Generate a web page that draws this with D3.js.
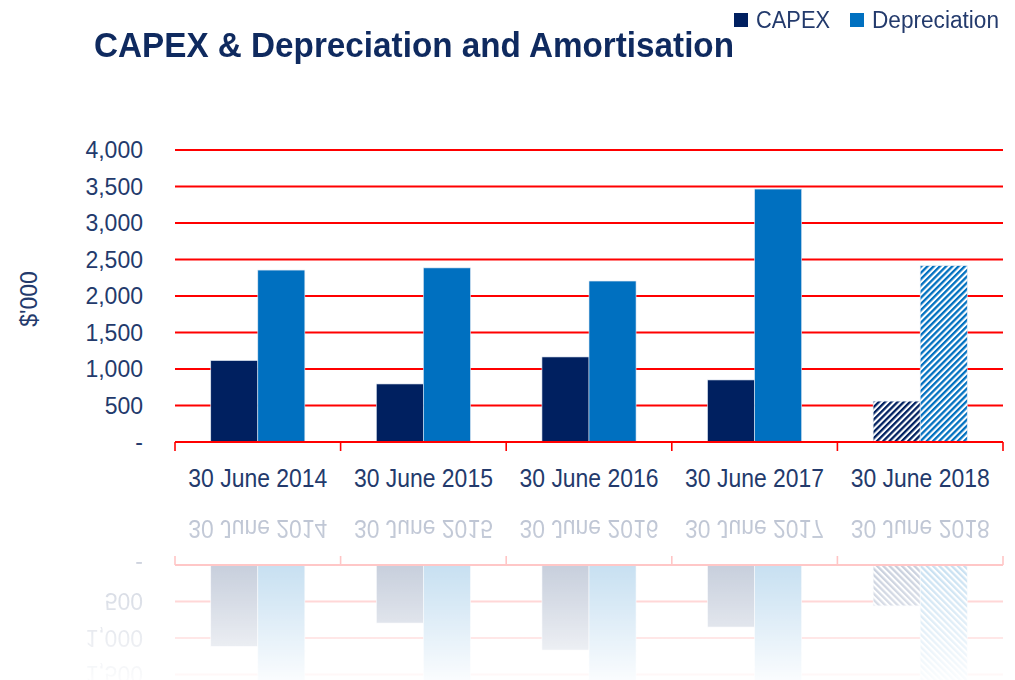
<!DOCTYPE html>
<html>
<head>
<meta charset="utf-8">
<script src="https://cdn.jsdelivr.net/npm/d3@7"></script>
<style>
  body { margin: 0; background: #fff; }
  text { font-family: "Liberation Sans", Arial, sans-serif; }
</style>
</head>
<body>
<script>
// data
var categories = ["30 June 2014", "30 June 2015", "30 June 2016", "30 June 2017", "30 June 2018"];
var series = ["CAPEX", "Depreciation"];
var capex = [1115, 795, 1165, 850, 560];
var depreciation = [2355, 2385, 2205, 3465, 2415];
var yTicks = [0, 500, 1000, 1500, 2000, 2500, 3000, 3500, 4000];
var forecast = ["30 June 2018"];   // hatched bars

var width = 1015, height = 680;
var margin = {top: 150, left: 175, right: 12};
var plotBottom = 442;

var colors = {CAPEX: "#002060", Depreciation: "#0070c0"};
var textColor = "#233a6c";

var svg = d3.select("body").append("svg")
    .attr("width", width)
    .attr("height", height);

var defs = svg.append("defs");

// hatch patterns for the forecast year
series.forEach(function(s) {
    var p = defs.append("pattern")
        .attr("id", "hatch-" + s)
        .attr("patternUnits", "userSpaceOnUse")
        .attr("width", 4.4)
        .attr("height", 4.4)
        .attr("patternTransform", "rotate(45)");
    p.append("rect").attr("width", 4.4).attr("height", 4.4).attr("fill", "#fff");
    p.append("rect").attr("width", 2.3).attr("height", 4.4).attr("fill", colors[s]);
});

// fading mask for the reflection
var grad = defs.append("linearGradient")
    .attr("id", "fade")
    .attr("gradientUnits", "userSpaceOnUse")
    .attr("x1", 0).attr("y1", 504).attr("x2", 0).attr("y2", 680);
grad.append("stop").attr("offset", 0).attr("stop-color", "#fff").attr("stop-opacity", 0.32);
grad.append("stop").attr("offset", 0.55).attr("stop-color", "#fff").attr("stop-opacity", 0.16);
grad.append("stop").attr("offset", 1).attr("stop-color", "#fff").attr("stop-opacity", 0.02);

defs.append("mask").attr("id", "reflMask")
    .attr("maskUnits", "userSpaceOnUse")
    .attr("x", 0).attr("y", 0).attr("width", width).attr("height", height)
  .append("rect")
    .attr("x", 0).attr("y", 504).attr("width", width).attr("height", 176)
    .attr("fill", "url(#fade)");

defs.append("filter").attr("id", "soft")
  .append("feGaussianBlur").attr("stdDeviation", 0.7);

var chart = svg.append("g").attr("id", "chart");

// scales
var x0 = d3.scaleBand()
    .domain(categories)
    .range([margin.left, width - margin.right])
    .padding(0);

var x1 = d3.scaleBand()
    .domain(series)
    .range([0, x0.bandwidth()])
    .paddingInner(0)
    .paddingOuter(0.76);

var y = d3.scaleLinear()
    .domain([0, 4000])
    .range([plotBottom, margin.top]);

// gridlines
chart.append("g")
    .selectAll("line")
    .data(yTicks.filter(function(d) { return d > 0; }))
    .enter().append("line")
    .attr("x1", margin.left)
    .attr("x2", width - margin.right)
    .attr("y1", function(d) { return y(d); })
    .attr("y2", function(d) { return y(d); })
    .attr("stroke", "#ff0000")
    .attr("stroke-width", 2);

// y axis labels
var yAxis = chart.append("g")
    .attr("transform", "translate(" + (margin.left - 32) + ",0)")
    .call(d3.axisLeft(y)
        .tickValues(yTicks)
        .tickSize(0)
        .tickPadding(0)
        .tickFormat(function(d) { return d === 0 ? "-" : d3.format(",")(d); }));
yAxis.select(".domain").remove();
yAxis.selectAll("text")
    .attr("fill", textColor)
    .style("font-size", "23px")
    .attr("dy", "0.34em");

// bars
var rows = categories.map(function(c, i) {
    return {cat: c, values: [
        {key: "CAPEX", value: capex[i]},
        {key: "Depreciation", value: depreciation[i]}
    ]};
});

chart.append("g")
    .selectAll("g")
    .data(rows)
    .enter().append("g")
    .attr("transform", function(d) { return "translate(" + x0(d.cat) + ",0)"; })
    .selectAll("rect")
    .data(function(d) {
        return d.values.map(function(v) { return {cat: d.cat, key: v.key, value: v.value}; });
    })
    .enter().append("rect")
    .attr("x", function(d) { return x1(d.key); })
    .attr("width", x1.bandwidth())
    .attr("y", function(d) { return y(d.value); })
    .attr("height", function(d) { return y(0) - y(d.value); })
    .attr("fill", function(d) {
        return forecast.indexOf(d.cat) >= 0 ? "url(#hatch-" + d.key + ")" : colors[d.key];
    })
    .attr("stroke", "#dfe8f2")
    .attr("stroke-width", 0.6);

// x axis: red line with boundary ticks
var xAxis = chart.append("g");
xAxis.append("line")
    .attr("x1", margin.left).attr("x2", width - margin.right)
    .attr("y1", plotBottom).attr("y2", plotBottom)
    .attr("stroke", "#ff0000").attr("stroke-width", 2);
var bounds = categories.map(function(c) { return x0(c); }).concat([x0.range()[1]]);
xAxis.selectAll(".tick")
    .data(bounds)
    .enter().append("line")
    .attr("x1", function(d) { return d; })
    .attr("x2", function(d) { return d; })
    .attr("y1", plotBottom)
    .attr("y2", plotBottom + 9)
    .attr("stroke", "#ff0000").attr("stroke-width", 1.6);

xAxis.selectAll(".cat")
    .data(categories)
    .enter().append("text")
    .attr("x", function(d) { return x0(d) + x0.bandwidth() / 2; })
    .attr("y", 487)
    .attr("text-anchor", "middle")
    .attr("fill", textColor)
    .style("font-size", "25px")
    .attr("textLength", 139)
    .attr("lengthAdjust", "spacingAndGlyphs")
    .text(function(d) { return d; });

// y axis title
chart.append("text")
    .attr("transform", "translate(37,299) rotate(-90)")
    .attr("text-anchor", "middle")
    .attr("fill", textColor)
    .style("font-size", "23px")
    .text("$'000");

// reflection of the lower part of the chart
svg.append("g")
    .attr("mask", "url(#reflMask)")
  .append("use")
    .attr("href", "#chart")
    .attr("filter", "url(#soft)")
    .attr("transform", "translate(0," + (2 * 503.5) + ") scale(1,-1)");

// title
svg.append("text")
    .attr("x", 94)
    .attr("y", 57)
    .attr("fill", "#0f2a5f")
    .style("font-size", "35px")
    .style("font-weight", "bold")
    .attr("textLength", 640)
    .attr("lengthAdjust", "spacingAndGlyphs")
    .text("CAPEX & Depreciation and Amortisation");

// legend
var legendX = [734, 850];
var legend = svg.append("g");
series.forEach(function(s, i) {
    legend.append("rect")
        .attr("x", legendX[i])
        .attr("y", 13)
        .attr("width", 14)
        .attr("height", 14)
        .attr("fill", colors[s]);
    legend.append("text")
        .attr("x", legendX[i] + 22)
        .attr("y", 28)
        .attr("fill", textColor)
        .style("font-size", "23px")
        .attr("textLength", i === 0 ? 74 : 127)
        .attr("lengthAdjust", "spacingAndGlyphs")
        .text(s);
});
</script>
</body>
</html>
